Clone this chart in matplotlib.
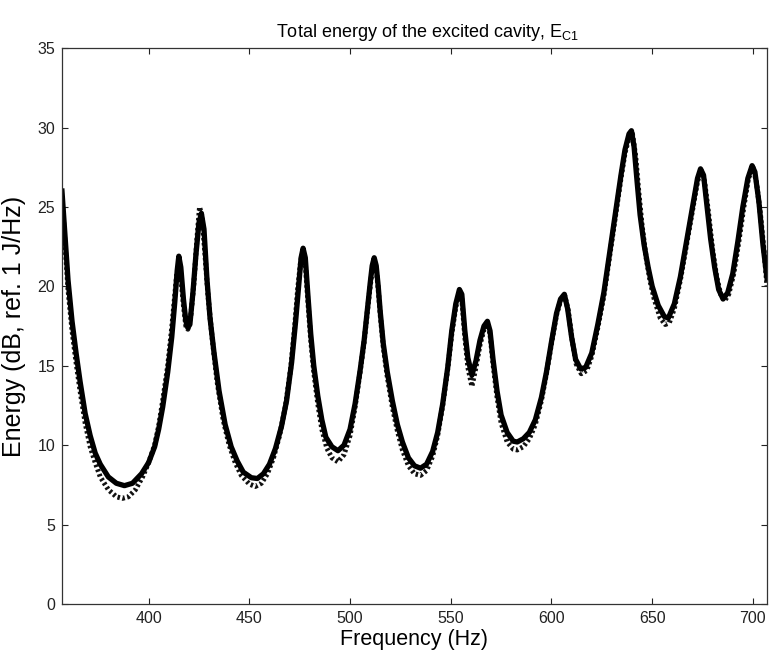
import numpy as np
import matplotlib
matplotlib.use("Agg")
import matplotlib.pyplot as plt

plt.rcParams['font.family'] = ['Liberation Sans', 'DejaVu Sans']

# measured (solid) curve: frequency (Hz), energy (dB)
freq_a = [357, 358.5, 360, 362, 364, 366, 368.5, 371, 373.5, 376, 380, 384, 388, 392,
          396.5, 400, 403, 405, 407, 409.5, 411.5, 413, 414.2, 415, 416, 417.3, 418.5,
          419.5, 420.5, 422, 423.5, 425, 426.2, 427.5, 429, 430.5, 432.5, 435, 438, 441,
          444, 447, 451, 454, 457, 460, 463, 466, 468.5, 471, 473, 474.5, 475.7, 476.7,
          477.8, 479, 480.5, 482, 484, 486, 488, 491, 494, 497, 500, 502.5, 505, 507,
          508.5, 510, 511, 512, 513, 514, 515, 516.5, 518.5, 521, 523.5, 526, 529, 532,
          535, 538, 541, 543.5, 546, 548.5, 550.5, 552.5, 554.3, 555.5, 557, 558.5,
          560.5, 562.5, 564.5, 566.5, 568.2, 569.5, 571, 573, 575, 578, 581, 583, 586,
          589, 592, 595, 597.5, 600, 602.5, 604.5, 606.4, 608, 610, 612, 614.5, 617, 620,
          623, 626, 629, 632, 634.5, 636.5, 638.5, 639.7, 641, 642.5, 644, 646, 648, 650,
          653, 656, 658, 661, 664, 667, 670, 672.5, 674, 675.5, 677, 679, 681, 683,
          685.2, 687.5, 690, 692.5, 695, 697.5, 699.6, 701, 703, 705, 707]
energy_a = [26.0, 23.2, 20.4, 17.8, 15.8, 14.0, 12.0, 10.6, 9.5, 8.8, 8.0, 7.6, 7.45, 7.6,
            8.2, 8.9, 9.9, 11.0, 12.4, 14.6, 16.8, 19.0, 21.0, 21.9, 21.2, 19.2, 17.8,
            17.4, 17.6, 19.6, 22.0, 24.0, 24.6, 23.6, 20.4, 18.0, 15.8, 13.4, 11.3, 9.9,
            9.0, 8.3, 7.95, 7.9, 8.2, 8.8, 9.8, 11.2, 12.8, 15.2, 17.8, 20.0, 21.8, 22.4,
            21.8, 19.6, 17.0, 15.0, 13.1, 11.6, 10.5, 9.9, 9.65, 10.0, 11.0, 12.6, 14.7, 16.6,
            18.4, 20.2, 21.3, 21.8, 21.3, 20.0, 18.4, 16.4, 14.6, 12.8, 11.3, 10.2, 9.2, 8.7,
            8.55, 8.8, 9.6, 10.8, 12.6, 14.9, 17.2, 18.9, 19.8, 19.5, 17.2, 15.5,
            14.4, 15.3, 16.6, 17.5, 17.8, 17.2, 15.4, 13.4, 11.9, 10.8, 10.25, 10.2, 10.4,
            10.8, 11.6, 13.0, 14.6, 16.5, 18.3, 19.2, 19.5, 18.6, 16.8, 15.4, 14.8, 14.9, 15.8,
            17.6, 19.6, 22.2, 24.8, 27.0, 28.6, 29.6, 29.8, 28.8, 26.6, 24.5, 22.6, 21.2, 20.0,
            18.8, 18.1, 18.0, 18.9, 20.6, 22.8, 25.0, 26.8, 27.4, 27.0, 25.3, 23.0, 21.2, 19.8,
            19.2, 19.6, 20.8, 22.8, 25.0, 26.8, 27.6, 27.2, 25.3, 22.6, 20.5]

# predicted (dotted) curve
freq_b = [357, 360, 362, 364, 366, 368.5, 371, 373.5, 376, 380, 384, 387, 390, 393.5,
          397, 400, 403, 405, 407, 409.5, 411.5, 413, 414, 415, 416, 417.3, 418.5, 419.5,
          421, 422.5, 424, 425.3, 426.5, 428, 429.5, 431.5, 434, 437, 440, 443, 446, 450,
          453, 456, 459, 462, 465, 468, 470.5, 472.5, 474, 475.5, 476.5, 477.8, 479, 480.5,
          482, 484, 486, 488.5, 491, 494, 497, 500, 502.5, 505, 507, 508.5, 510, 511, 512,
          513, 514, 515, 516.5, 518.5, 521, 523.5, 526, 529, 532, 535, 538, 541, 543.5, 546,
          548.5, 550.5, 552.5, 554.3, 555.5, 557, 558.5, 560.5, 562.5, 564.5, 566.5, 568.2,
          569.5, 571, 573, 575, 578, 581, 583, 586, 589, 592, 595, 597.5, 600, 602.5, 604.5,
          606.6, 608.3, 610.3, 612.3, 614.8, 617.5, 620, 623, 626, 629, 632, 634.5, 636.5,
          638.8, 640.2, 641.8, 643.3, 645, 647, 649, 651, 654, 656.5, 658.5, 661, 664, 667,
          670, 672.5, 674.3, 676, 677.8, 680, 682, 684, 686, 688, 690.5, 693, 695.5, 697.8,
          700, 701.7, 703.7, 705.7, 707]
energy_b = [25.6, 19.8, 17.2, 15.2, 13.4, 11.4, 9.9, 8.9, 8.0, 7.2, 6.75, 6.65, 6.75, 7.2,
            8.0, 8.9, 10.0, 11.2, 12.8, 15.0, 17.4, 19.4, 20.8, 21.3, 20.6, 18.8, 17.5, 17.3,
            18.2, 20.2, 23.0, 25.0, 24.4, 22.0, 19.4, 16.8, 14.0, 11.6, 10.0, 8.9, 8.1, 7.55,
            7.4, 7.6, 8.2, 9.2, 10.6, 12.5, 14.8, 17.4, 19.8, 21.6, 22.1, 21.4, 19.2, 16.6,
            14.6, 12.6, 11.0, 9.8, 9.2, 8.95, 9.4, 10.6, 12.4, 14.6, 16.5, 18.3, 20.0, 21.0, 21.5,
            21.1, 19.8, 18.2, 16.2, 14.3, 12.4, 10.9, 9.7, 8.7, 8.2, 8.1, 8.4, 9.3, 10.6, 12.5,
            14.8, 17.0, 18.7, 19.6, 19.2, 16.8, 14.9, 13.7, 14.9, 16.3, 17.3, 17.6,
            17.0, 15.1, 13.0, 11.4, 10.2, 9.75, 9.7, 9.9, 10.4, 11.3, 12.8, 14.5, 16.4, 18.2, 19.1,
            19.4, 18.5, 16.6, 15.1, 14.5, 14.7, 15.6, 17.4, 19.4, 22.0, 24.6, 26.8, 28.4,
            29.5, 29.6, 28.2, 26.0, 23.8, 21.8, 20.3, 19.2, 18.0, 17.6, 17.7, 18.6, 20.4, 22.6,
            24.8, 26.6, 27.3, 26.6, 24.8, 22.3, 20.6, 19.5, 19.1, 19.5, 20.8, 22.8, 25.0, 26.8,
            27.5, 26.6, 24.6, 22.0, 20.0]

fig = plt.figure(figsize=(7.69, 6.59), dpi=100)
ax = fig.add_axes([0.0806, 0.0835, 0.9168, 0.8435])

ax.plot(freq_b, energy_b, color='#111111', lw=3.6, ls=(0, (0.5, 0.5)))
ax.plot(freq_a, energy_a, color='black', lw=3.8, solid_joinstyle='round')

ax.set_xlim(357, 707)
ax.set_ylim(0, 35)
ax.set_xticks(np.arange(400, 701, 50))
ax.set_yticks(np.arange(0, 36, 5))
ax.tick_params(direction='in', length=4, width=0.8, top=True, right=True,
               labelsize=11.5, colors='#222222', pad=5)
for s in ax.spines.values():
    s.set_linewidth(0.9)
    s.set_color('#333333')

ax.set_xlabel("Frequency (Hz)", fontsize=15.5, labelpad=2)
ax.set_ylabel("Energy (dB, ref. 1 J/Hz)", fontsize=18, labelpad=8)
ax.set_title("Total energy of the excited cavity, E$_{\\mathregular{C1}}$",
             fontsize=13, pad=8, x=0.519)

fig.savefig("out.png", dpi=100)
